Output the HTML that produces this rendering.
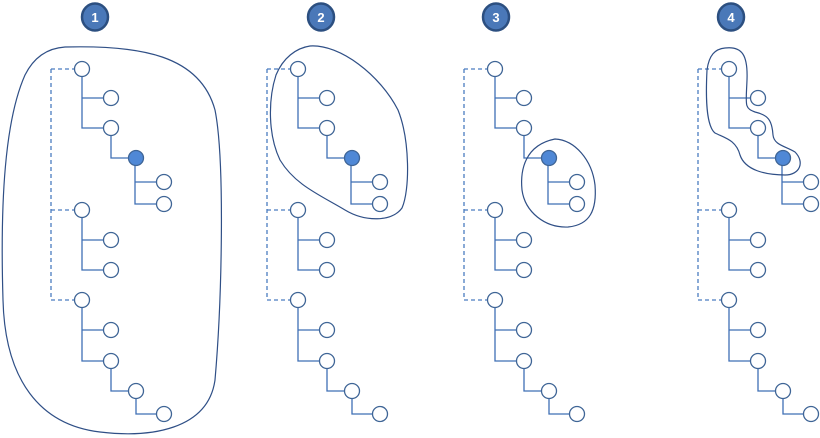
<!DOCTYPE html>
<html><head><meta charset="utf-8"><style>html,body{margin:0;padding:0;background:#fff}svg{display:block}</style></head><body>
<svg width="820" height="438" viewBox="0 0 820 438" xmlns="http://www.w3.org/2000/svg">
<defs>
<g id="tree" fill="#fff" stroke-width="1.3">
  <g stroke="#4a7cc0" stroke-dasharray="4,3" fill="none">
    <path d="M51,69 V300 M51,69 H75 M51,210 H75 M51,300 H75"/>
  </g>
  <g stroke="#3f6fb5" fill="none">
    <path d="M82,69 V128 H104 M82,98 H104 M111,128 V158 H128 M135,158 V204 H157 M135,182 H157"/>
    <path d="M82,210 V270 H104 M82,240 H104"/>
    <path d="M82,300 V361 H104 M82,330 H104 M111,361 V391 H129 M136,391 V414 H157"/>
  </g>
  <g stroke="#3f6596">
    <circle cx="82" cy="69" r="7.5"/><circle cx="111" cy="98" r="7.5"/><circle cx="111" cy="128" r="7.5"/>
    <circle cx="136" cy="158" r="7.5" fill="#4f88d6"/>
    <circle cx="164" cy="182" r="7.5"/><circle cx="164" cy="204" r="7.5"/>
    <circle cx="82" cy="210" r="7.5"/><circle cx="111" cy="240" r="7.5"/><circle cx="111" cy="270" r="7.5"/>
    <circle cx="82" cy="300" r="7.5"/><circle cx="111" cy="330" r="7.5"/><circle cx="111" cy="361" r="7.5"/>
    <circle cx="136" cy="391" r="7.5"/><circle cx="164" cy="414" r="7.5"/>
  </g>
</g>
</defs>
<use href="#tree"/>
<use href="#tree" transform="translate(216,0)"/>
<use href="#tree" transform="translate(413,0)"/>
<use href="#tree" transform="translate(647,0)"/>

<g fill="none" stroke="#2f4f86" stroke-width="1.2">
  <path d="M65,47 C140,45 200,55 215,110 C225,160 222,300 215,380 C208,430 150,438 100,432 C40,425 5,380 3,300 C0,200 5,120 25,75 C35,55 50,48 65,47 Z"/>
  <path d="M310,46 C340,44 380,75 398,110 C410,140 410,190 402,208 C392,222 365,222 345,210 C320,195 295,185 280,160 C268,135 268,100 276,75 C283,58 296,48 310,46 Z"/>
  <path d="M555,139 C575,140 592,160 595,185 C597,210 590,225 568,227 C545,228 525,212 522,190 C520,170 525,145 555,139 Z"/>
  <path d="M725,48 C742,46 748,55 747,80 C746,105 744,108 755,112 C768,115 772,120 773,135 C774,145 785,146 795,152 C805,162 800,175 785,175 C765,175 745,170 740,155 C736,140 725,138 715,133 C705,125 706,90 707,70 C709,55 715,49 725,48 Z"/>
</g>

<g font-family="Liberation Sans, sans-serif" font-weight="bold" font-size="13" fill="#fff" text-anchor="middle">
  <ellipse cx="95" cy="17" rx="13" ry="13.5" fill="#4a78b8" stroke="#2c4f80" stroke-width="2.5"/>
  <text x="95" y="22">1</text>
  <ellipse cx="321" cy="17" rx="13" ry="13.5" fill="#4a78b8" stroke="#2c4f80" stroke-width="2.5"/>
  <text x="321" y="22">2</text>
  <ellipse cx="496" cy="17" rx="13" ry="13.5" fill="#4a78b8" stroke="#2c4f80" stroke-width="2.5"/>
  <text x="496" y="22">3</text>
  <ellipse cx="731" cy="17" rx="13" ry="13.5" fill="#4a78b8" stroke="#2c4f80" stroke-width="2.5"/>
  <text x="731" y="22">4</text>
</g>
</svg>
</body></html>
